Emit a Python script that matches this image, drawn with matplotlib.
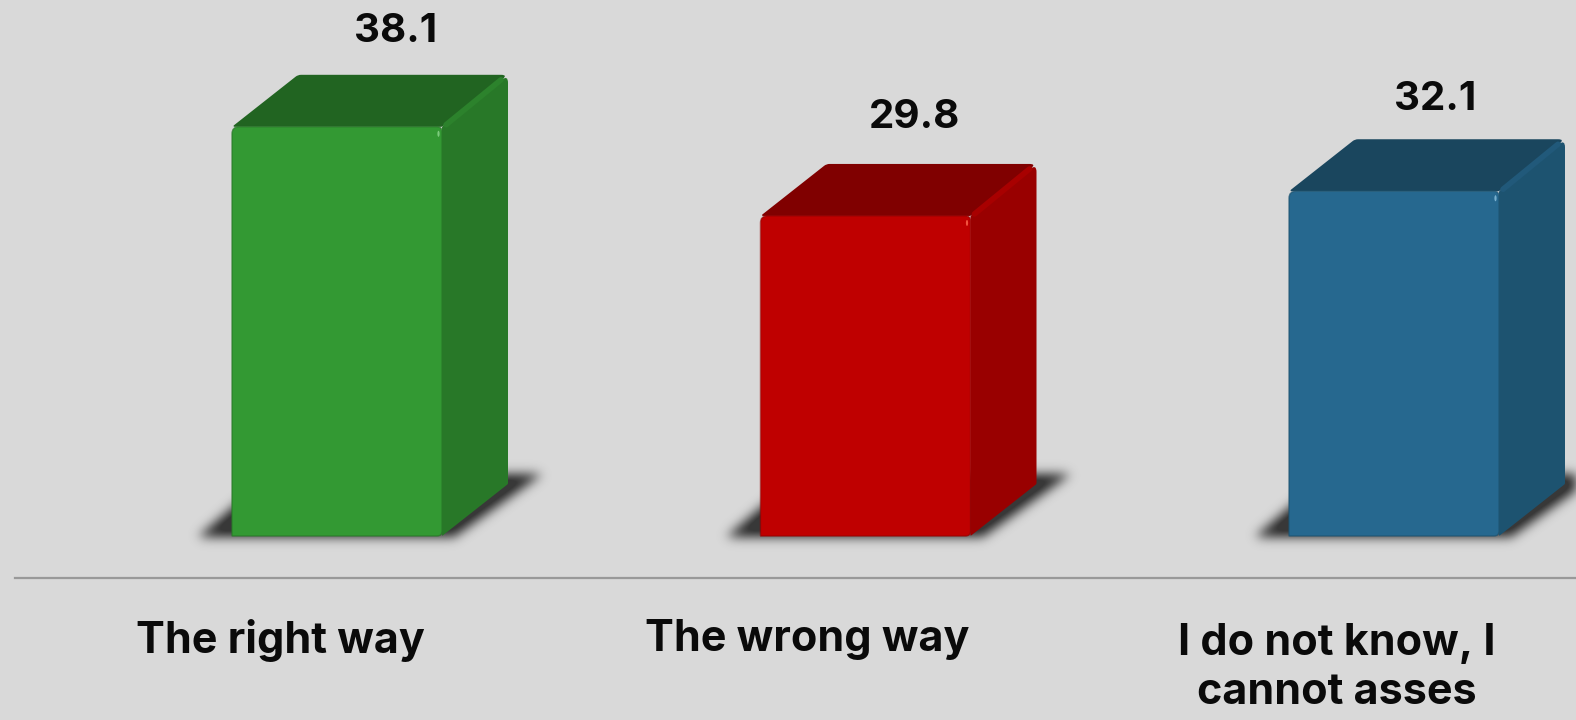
import numpy as np
import matplotlib
matplotlib.use('Agg')
import matplotlib.pyplot as plt
from matplotlib.patches import PathPatch, Ellipse
from matplotlib.path import Path

categorias = ['The right way', 'The wrong way', 'I do not know, I\ncannot asses']
valores = [38.1, 29.8, 32.1]
cor_frente = ['#339933', '#BF0000', '#26688F']
cor_topo = ['#216421', '#800000', '#1A465E']
cor_lado = ['#287828', '#990000', '#1D5370']
cor_brilho = ['#2C822C', '#A80000', '#21597A']
cor_ponto = ['#8FD88F', '#FF6A50', '#8FC4E0']

# posicao dos textos em pixels da imagem
pos_valor_x = [396, 915, 1435]
pos_valor_y = [32, 117, 99]
pos_cat_x = [280, 807, 1337]
pos_cat_y = [640, 640, 668]

fundo = '#D9D9D9'
sx = 528.5  # pixels por categoria
sy = 10.74  # pixels por unidade
x0 = 337
y0 = 536
largura = 210 / sx
dx = 66 / sx  # profundidade 3d
dy = 52 / sy

fig = plt.figure(figsize=(15.76, 7.2), dpi=100, facecolor=fundo)
ax = fig.add_axes([0, 0, 1, 1])
xlim = (-x0 / sx, (1576 - x0) / sx)
ylim = (-(720 - y0) / sy, y0 / sy)
ax.axis('off')


def arredondado(pts, raios):
    # poligono com cantos arredondados, raio em pixels
    verts = []
    codes = []
    n = len(pts)
    for i in range(n):
        px, py = pts[i]
        ax_, ay_ = pts[i - 1]
        bx, by = pts[(i + 1) % n]
        r = raios[i]
        d1 = (((ax_ - px) * sx) ** 2 + ((ay_ - py) * sy) ** 2) ** 0.5
        d2 = (((bx - px) * sx) ** 2 + ((by - py) * sy) ** 2) ** 0.5
        p1 = (px + (ax_ - px) * r / d1, py + (ay_ - py) * r / d1)
        p2 = (px + (bx - px) * r / d2, py + (by - py) * r / d2)
        verts += [p1, (px, py), p2]
        codes += [Path.LINETO, Path.CURVE3, Path.CURVE3]
    codes[0] = Path.MOVETO
    verts.append(verts[0])
    codes.append(Path.CLOSEPOLY)
    return Path(verts, codes)


xs = list(range(len(valores)))

# sombra desfocada
gx, gy = np.meshgrid(np.arange(1576) + 0.5, np.arange(720) + 0.5)
grade = np.column_stack([gx.ravel(), gy.ravel()])
mascara = np.zeros((720, 1576))
for i in xs:
    e = x0 + i * sx - 105
    d = x0 + i * sx + 105
    sombra = Path([(e - 34, y0 + 1), (d + 12, y0 + 1), (d + 100, y0 - 62), (e + 40, y0 - 62)])
    mascara += sombra.contains_points(grade).reshape(720, 1576)
t = np.arange(-18, 19)
nucleo = np.exp(-t ** 2 / (2 * 5.5 ** 2))
nucleo = nucleo / nucleo.sum()
mascara = np.apply_along_axis(lambda l: np.convolve(l, nucleo, mode='same'), 0, mascara)
mascara = np.apply_along_axis(lambda l: np.convolve(l, nucleo, mode='same'), 1, mascara)
rgba = np.zeros((720, 1576, 4))
rgba[..., :3] = 0.22
rgba[..., 3] = np.clip(mascara * 1.15, 0, 1)
ax.imshow(rgba, extent=(xlim[0], xlim[1], ylim[0], ylim[1]), aspect='auto', zorder=1)

ax.axhline(-42 / sy, xmin=15 / 1576, color='#999999', lw=1.6, zorder=2)

for i in xs:
    e = i - largura / 2
    d = i + largura / 2
    v = valores[i]
    # topo
    topo = [(e, v), (e + dx, v + dy), (d + dx, v + dy), (d, v)]
    ax.add_patch(PathPatch(arredondado(topo, [3, 3, 7, 1]), fc=cor_topo[i], ec='none', zorder=3))
    # lado
    lado = [(d, 0), (d, v), (d + dx, v + dy), (d + dx, dy)]
    ax.add_patch(PathPatch(arredondado(lado, [1, 1, 8, 1]), fc=cor_lado[i], ec='none', zorder=4))
    # brilho na aresta
    ax.plot([d + 4 / sx, d + dx - 7 / sx], [v + 2 / sy, v + dy - 5 / sy], color=cor_brilho[i], lw=4,
            solid_capstyle='round', zorder=5)

barras = ax.bar(xs, valores, width=largura, color=cor_frente, edgecolor='none', zorder=6)
for i, b in enumerate(barras):
    e = b.get_x()
    d = e + b.get_width()
    v = b.get_height()
    contorno = arredondado([(e, 0), (e, v), (d, v), (d, 0)], [0.5, 7, 5, 5])
    b.set_clip_path(contorno, transform=ax.transData)
    ax.add_patch(PathPatch(contorno, fc='none', ec=cor_lado[i], lw=1, alpha=0.7, zorder=7))
    ax.add_patch(Ellipse((d - 3.5 / sx, v - 7 / sy), 2.2 / sx, 6 / sy, fc=cor_ponto[i], ec='none',
                         alpha=0.8, zorder=8))
    fig.text(pos_valor_x[i] / 1576, 1 - pos_valor_y[i] / 720, f'{v}', ha='center', va='center',
             fontsize=29, fontweight='bold', family='Inter', color='#0A0A0A')
    fig.text(pos_cat_x[i] / 1576, 1 - pos_cat_y[i] / 720, categorias[i], ha='center', va='center',
             fontsize=31, fontweight='bold', family='Inter', color='#0A0A0A', linespacing=1.25)

ax.set_xlim(xlim)
ax.set_ylim(ylim)

fig.savefig('out.png', dpi=100, facecolor=fundo)
